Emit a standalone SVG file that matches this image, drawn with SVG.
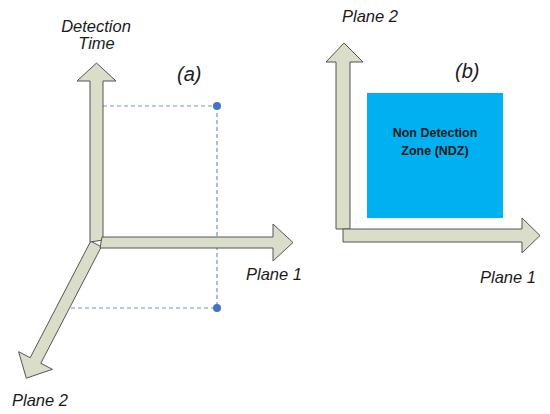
<svg xmlns="http://www.w3.org/2000/svg" width="550" height="414" viewBox="0 0 550 414">
<style>
.ax{fill:#DADDC8;stroke:#555;stroke-width:1;stroke-linejoin:miter}
.dash{stroke:#6A93D8;stroke-width:1.2;stroke-dasharray:4,3;fill:none}
.dot{fill:#4472C4}
.lbl{font-family:"Liberation Sans",Arial,sans-serif;font-style:italic;font-size:16.5px;fill:#1a1a1a}
.cap{font-family:"Liberation Sans",Arial,sans-serif;font-style:italic;font-size:20px;fill:#1a1a1a}
.ndz{font-family:"Liberation Sans",Arial,sans-serif;font-weight:bold;font-size:12.5px;fill:#1a1a1a;text-anchor:middle}
</style>
<rect width="550" height="414" fill="#fff"/>
<g id="connectors">
<line class="dash" x1="103" y1="106" x2="217" y2="106"/>
<line class="dash" x1="217" y1="106" x2="217" y2="308"/>
<line class="dash" x1="71" y1="308" x2="217" y2="308"/>
</g>
<g id="axis-a-plane2"><polygon class="ax" points="90.7,241.2 30.2,357.7 18.6,351.7 26.3,378.2 52.4,369.3 40.8,363.3 101.3,246.8"/></g>
<g id="axis-a-time"><polygon class="ax" points="90,242 90,81 77,81 96.5,63 116,81 103,81 103,240"/></g>
<g id="axis-a-plane1"><polygon class="ax" points="102,237 273,237 273,224 293,242.5 273,261 273,248 100,248"/></g>
<g id="point-top"><circle class="dot" cx="217" cy="106" r="4"/></g>
<g id="point-bottom"><circle class="dot" cx="217" cy="308" r="4"/></g>
<g id="labels-a">
<text class="lbl" x="96" y="32" text-anchor="middle">Detection</text>
<text class="lbl" x="96.5" y="49" text-anchor="middle">Time</text>
<text class="cap" x="177" y="81">(a)</text>
<text class="lbl" x="246" y="280">Plane 1</text>
<text class="lbl" x="12" y="406">Plane 2</text>
</g>
<g id="axis-b-plane2"><polygon class="ax" points="336,229 336,62 326,62 344,43 363,62 350,62 350,229"/></g>
<g id="axis-b-plane1"><polygon class="ax" points="343,229 522,229 522,218 540,235.5 522,253 522,242 343,242"/></g>
<g id="ndz">
<rect x="367" y="93" width="136" height="125" fill="#00B0F0"/>
<text class="ndz" x="435" y="137">Non Detection</text>
<text class="ndz" x="435" y="155">Zone (NDZ)</text>
</g>
<g id="labels-b">
<text class="cap" x="455" y="78">(b)</text>
<text class="lbl" x="342" y="22">Plane 2</text>
<text class="lbl" x="480" y="283">Plane 1</text>
</g>
</svg>
